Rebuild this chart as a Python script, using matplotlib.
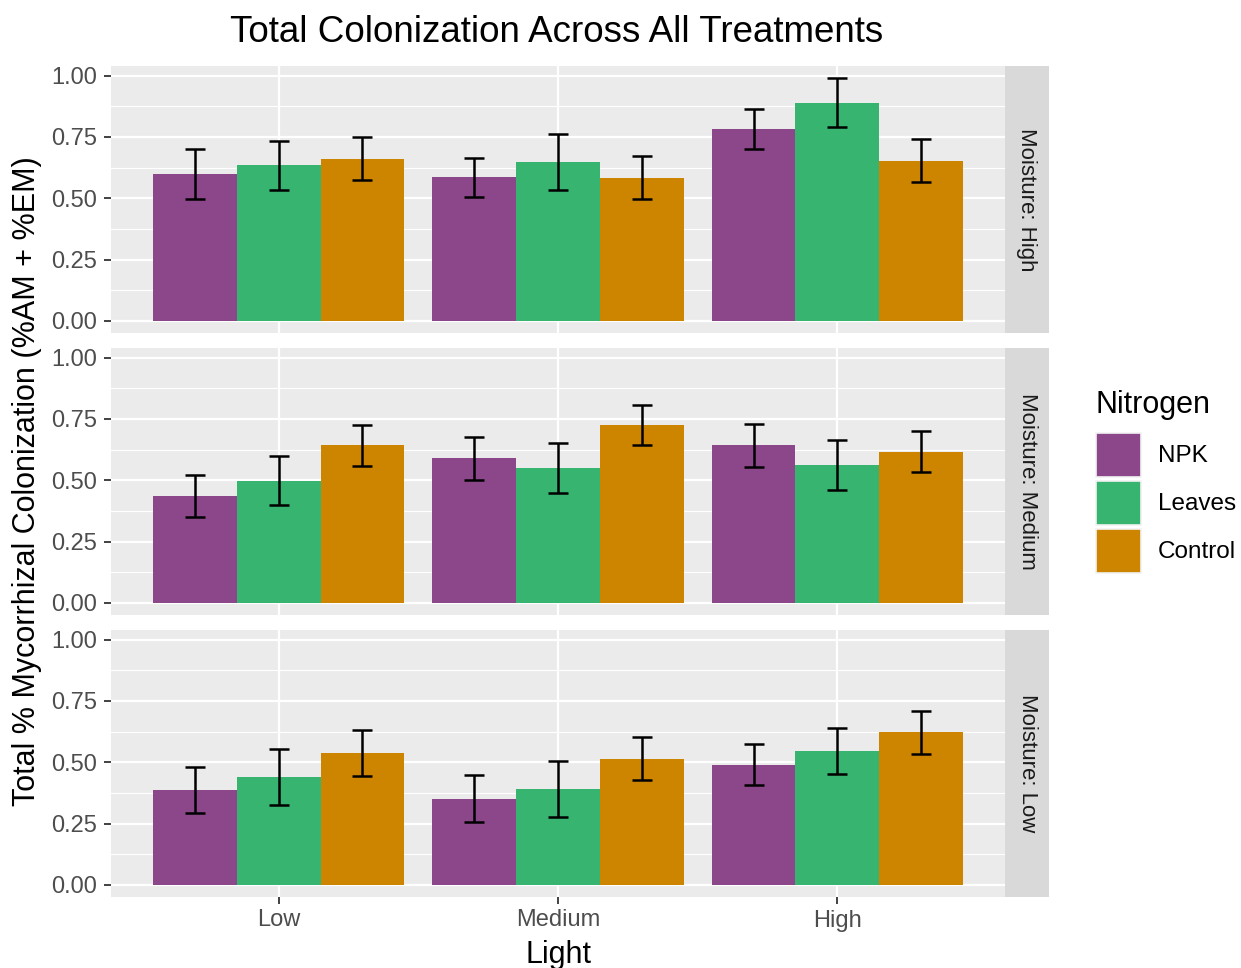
import numpy as np
import matplotlib
matplotlib.use("Agg")
import matplotlib.pyplot as plt
from matplotlib.patches import Rectangle

plt.rcParams["font.family"] = ["Liberation Sans", "DejaVu Sans"]

light = ["Low", "Medium", "High"]
nitrogen = ["NPK", "Leaves", "Control"]
moisture = ["High", "Medium", "Low"]
colors = ["#8B4789", "#37B46F", "#CD8500"]

# mean colonization per nitrogen treatment (rows) across light levels (cols)
moist_high_mean = [[0.599, 0.585, 0.784],
                   [0.635, 0.648, 0.890],
                   [0.661, 0.584, 0.653]]
moist_high_se = [[0.102, 0.081, 0.082],
                 [0.100, 0.115, 0.100],
                 [0.087, 0.088, 0.088]]

moist_med_mean = [[0.436, 0.589, 0.643],
                  [0.499, 0.551, 0.563],
                  [0.643, 0.725, 0.617]]
moist_med_se = [[0.086, 0.086, 0.087],
                [0.101, 0.101, 0.101],
                [0.083, 0.083, 0.082]]

moist_low_mean = [[0.388, 0.352, 0.490],
                  [0.439, 0.391, 0.545],
                  [0.537, 0.515, 0.622]]
moist_low_se = [[0.093, 0.095, 0.083],
                [0.114, 0.116, 0.094],
                [0.094, 0.087, 0.088]]

means = [moist_high_mean, moist_med_mean, moist_low_mean]
ses = [moist_high_se, moist_med_se, moist_low_se]

W, H = 1241, 968
fig = plt.figure(figsize=(W / 100, H / 100), dpi=100)

panel_left = 111
panel_right = 1005
strip_right = 1049
panel_tops = [66, 348, 630]
panel_h = 267

x = np.arange(1, len(light) + 1)
bw = 0.3

for p in range(3):
    top = panel_tops[p]
    ax = fig.add_axes([panel_left / W, 1 - (top + panel_h) / H,
                       (panel_right - panel_left) / W, panel_h / H])
    ax.set_facecolor("#EBEBEB")
    for s in ax.spines.values():
        s.set_visible(False)

    for k in range(3):
        xs = x + (k - 1) * bw
        ax.bar(xs, means[p][k], width=bw, color=colors[k], zorder=3)
        ax.errorbar(xs, means[p][k], yerr=ses[p][k], fmt="none",
                    ecolor="black", elinewidth=1.8, capsize=7,
                    capthick=1.8, zorder=4)

    ax.set_xlim(0.4, 3.6)
    ax.set_ylim(-0.0495, 1.0395)
    ax.set_yticks([0, 0.25, 0.5, 0.75, 1.0])
    ax.set_yticklabels(["0.00", "0.25", "0.50", "0.75", "1.00"])
    ax.set_yticks([0.125, 0.375, 0.625, 0.875], minor=True)
    ax.set_xticks(x)
    ax.grid(True, which="major", color="white", linewidth=1.6, zorder=0)
    ax.grid(True, which="minor", axis="y", color="white", linewidth=0.8, zorder=0)
    ax.set_axisbelow(True)
    ax.tick_params(axis="y", which="major", length=5, width=1.3,
                   color="#333333", labelcolor="#4D4D4D", labelsize=17, pad=5)
    ax.tick_params(axis="y", which="minor", length=0)
    if p == 2:
        ax.set_xticklabels(light)
        ax.tick_params(axis="x", length=5, width=1.3, color="#333333",
                       labelcolor="#4D4D4D", labelsize=17, pad=4)
        ax.set_xlabel("Light", fontsize=22, labelpad=6)
    else:
        ax.tick_params(axis="x", length=0, labelbottom=False)

    # facet strip on the right
    sax = fig.add_axes([panel_right / W, 1 - (top + panel_h) / H,
                        (strip_right - panel_right) / W, panel_h / H])
    sax.set_facecolor("#D9D9D9")
    sax.set_xticks([])
    sax.set_yticks([])
    for s in sax.spines.values():
        s.set_visible(False)
    sax.text(0.5, 0.5, "Moisture: " + moisture[p], rotation=-90,
             ha="center", va="center", fontsize=16, color="#1A1A1A",
             transform=sax.transAxes)

fig.text(557 / W, 1 - 33 / H, "Total Colonization Across All Treatments",
         ha="center", va="center", fontsize=26.5)
fig.text(27 / W, 1 - 481 / H, "Total % Mycorrhizal Colonization (%AM + %EM)",
         ha="center", va="center", rotation=90, fontsize=22)

# legend drawn in pixel coordinates
lax = fig.add_axes([0, 0, 1, 1], zorder=5)
lax.set_xlim(0, W)
lax.set_ylim(H, 0)
lax.axis("off")
lax.text(1095, 405, "Nitrogen", ha="left", va="center", fontsize=22)
key_tops = [433, 481, 529]
for k, name in enumerate(nitrogen):
    lax.add_patch(Rectangle((1096, key_tops[k]), 45, 44, facecolor=colors[k],
                            edgecolor="#F2F2F2", linewidth=1.2))
    lax.text(1158, key_tops[k] + 23, name, ha="left", va="center", fontsize=17.5)

fig.savefig("out.png", dpi=100)
